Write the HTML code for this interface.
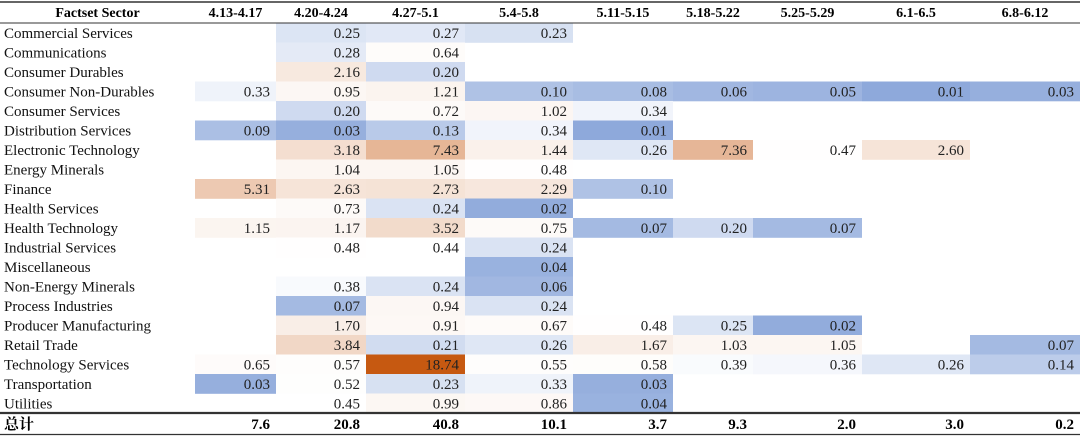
<!DOCTYPE html>
<html><head><meta charset="utf-8">
<style>
html,body{margin:0;padding:0;background:#fff;}
svg{display:block;}
text{font-family:"Liberation Serif","Noto Serif CJK SC",serif;}
</style></head>
<body>
<svg id="chart" width="1080" height="437" viewBox="0 0 1080 437" xmlns="http://www.w3.org/2000/svg"></svg>
<script>
const columns = ["4.13-4.17","4.20-4.24","4.27-5.1","5.4-5.8","5.11-5.15","5.18-5.22","5.25-5.29","6.1-6.5","6.8-6.12"];
const sectors = ["Commercial Services","Communications","Consumer Durables","Consumer Non-Durables","Consumer Services","Distribution Services","Electronic Technology","Energy Minerals","Finance","Health Services","Health Technology","Industrial Services","Miscellaneous","Non-Energy Minerals","Process Industries","Producer Manufacturing","Retail Trade","Technology Services","Transportation","Utilities"];
const values = [
[null,0.25,0.27,0.23,null,null,null,null,null],
[null,0.28,0.64,null,null,null,null,null,null],
[null,2.16,0.20,null,null,null,null,null,null],
[0.33,0.95,1.21,0.10,0.08,0.06,0.05,0.01,0.03],
[null,0.20,0.72,1.02,0.34,null,null,null,null],
[0.09,0.03,0.13,0.34,0.01,null,null,null,null],
[null,3.18,7.43,1.44,0.26,7.36,0.47,2.60,null],
[null,1.04,1.05,0.48,null,null,null,null,null],
[5.31,2.63,2.73,2.29,0.10,null,null,null,null],
[null,0.73,0.24,0.02,null,null,null,null,null],
[1.15,1.17,3.52,0.75,0.07,0.20,0.07,null,null],
[null,0.48,0.44,0.24,null,null,null,null,null],
[null,null,null,0.04,null,null,null,null,null],
[null,0.38,0.24,0.06,null,null,null,null,null],
[null,0.07,0.94,0.24,null,null,null,null,null],
[null,1.70,0.91,0.67,0.48,0.25,0.02,null,null],
[null,3.84,0.21,0.26,1.67,1.03,1.05,null,0.07],
[0.65,0.57,18.74,0.55,0.58,0.39,0.36,0.26,0.14],
[0.03,0.52,0.23,0.33,0.03,null,null,null,null],
[null,0.45,0.99,0.86,0.04,null,null,null,null]
];
const totals = ["7.6","20.8","40.8","10.1","3.7","9.3","2.0","3.0","0.2"];
const totalLabel = "总计";
const headerLabel = "Factset Sector";

const svg = document.getElementById('chart');
const NS = "http://www.w3.org/2000/svg";
const colEdges = [0,195,276,366,465,573,673,753,862,970,1080];
const headerTop = 2, headerBottom = 23, rowH = 19.5;
const rowY = i => headerBottom + i * rowH;
const mid = 0.45, maxV = 18.74, minV = 0.01;
function mix(c, t){
  const r = Math.round(255 + (c[0]-255)*t), g = Math.round(255 + (c[1]-255)*t), b = Math.round(255 + (c[2]-255)*t);
  return `rgb(${r},${g},${b})`;
}
function color(v){
  if (v >= mid) { const t = Math.min(1,(v-mid)/(maxV-mid)); return mix([198,89,17], Math.pow(t,0.85)); }
  const t = Math.min(1,(mid-v)/(mid-minV)); return mix([142,169,219], Math.pow(t,1.5));
}
function mk(tag, attrs, parent){
  const e = document.createElementNS(NS, tag);
  for (const k in attrs) e.setAttribute(k, attrs[k]);
  (parent||svg).appendChild(e); return e;
}
const hc = (colEdges[0]+colEdges[1])/2;
let t = mk('text',{x:hc,y:17,'text-anchor':'middle','font-size':14,'font-weight':'bold',fill:'#000'});


t.textContent = headerLabel;
columns.forEach((c,j)=>{
  const e = mk('text',{x:(colEdges[j+1]+colEdges[j+2])/2,y:17,'text-anchor':'middle','font-size':14,'font-weight':'bold',fill:'#000'});
  
  
  e.textContent = c;
});
sectors.forEach((s,i)=>{
  const y = rowY(i);
  const lab = mk('text',{x:4,y:y+15,'font-size':15,fill:'#111'});
  
  
  lab.textContent = s;
  values[i].forEach((v,j)=>{
    if (v === null) return;
    const x0 = colEdges[j+1], x1 = colEdges[j+2];
    const r = mk('rect',{x:x0,y:y,width:x1-x0,height:rowH+0.3,fill:color(v)});
    
    
    const tx = mk('text',{x:x1-6,y:y+15,'text-anchor':'end','font-size':15,fill:'#222'});
    
    
    tx.textContent = v.toFixed(2);
  });
});
const totTop = rowY(sectors.length);
[[headerTop,1.5],[headerBottom,1],[totTop,2.2],[434.5,1.3]].forEach(([yy,w])=>{
  const l = mk('line',{x1:0,x2:1080,y1:yy,y2:yy,stroke:'#333','stroke-width':w});
  
  
});
const tl = mk('text',{x:4,y:totTop+16,'font-size':15,'font-weight':'bold',fill:'#000'});


tl.textContent = totalLabel;
totals.forEach((v,j)=>{
  const e = mk('text',{x:colEdges[j+2]-6,y:totTop+16,'text-anchor':'end','font-size':15,'font-weight':'bold',fill:'#000'});
  
  
  e.textContent = v;
});
</script>
</body></html>
